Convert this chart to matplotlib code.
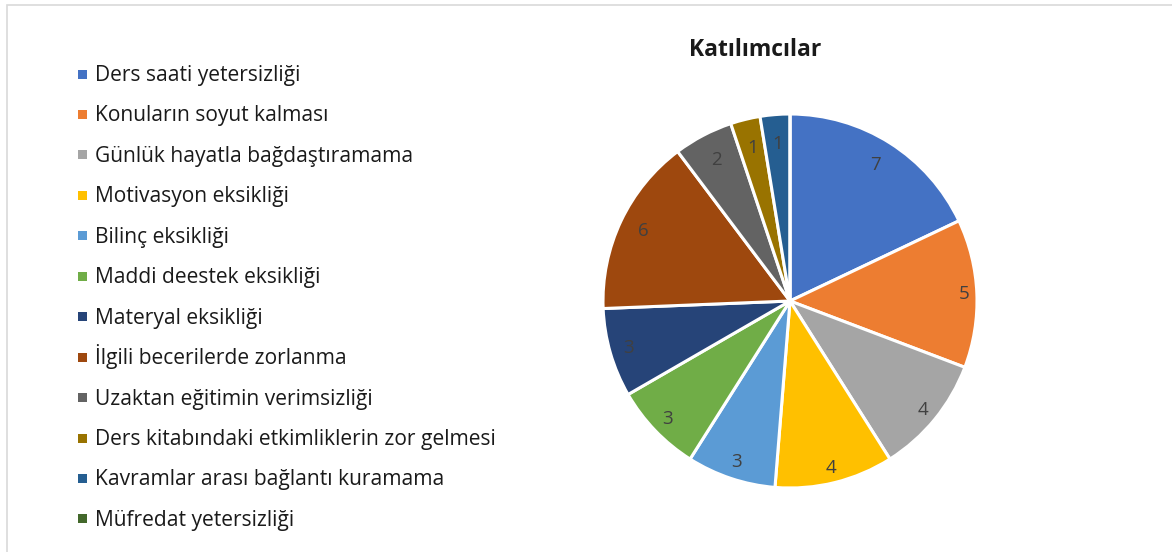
import matplotlib.pyplot as plt
from matplotlib.patches import Rectangle
import numpy as np

plt.rcParams['font.family'] = ['Open Sans', 'DejaVu Sans']

# data
categories = ["Ders saati yetersizliği", "Konuların soyut kalması", "Günlük hayatla bağdaştıramama",
              "Motivasyon eksikliği", "Bilinç eksikliği", "Maddi deestek eksikliği",
              "Materyal eksikliği", "İlgili becerilerde zorlanma", "Uzaktan eğitimin verimsizliği",
              "Ders kitabındaki etkimliklerin zor gelmesi", "Kavramlar arası bağlantı kuramama",
              "Müfredat yetersizliği"]
values = [7, 5, 4, 4, 3, 3, 3, 6, 2, 1, 1, 0]
colors = ["#4472C4", "#ED7D31", "#A5A5A5", "#FFC000", "#5B9BD5", "#70AD47",
          "#264478", "#9E480E", "#636363", "#997300", "#255E91", "#43682B"]
label_dist = [0.86, 0.93, 0.92, 0.92, 0.91, 0.91, 0.90, 0.87, 0.85, 0.84, 0.84, 0.84]

fig = plt.figure(figsize=(11.72, 5.52), dpi=100)
W, H = 1172, 552

# chart border
fig.patches.append(Rectangle((7 / W, -0.01), 1.02, 1 - 5 / H + 0.01, transform=fig.transFigure,
                             fill=False, edgecolor="#d9d9d9", linewidth=1.2))

cx, cy, r = 790, 301, 187
ax = fig.add_axes([(cx - r) / W, (H - cy - r) / H, 2 * r / W, 2 * r / H])
wedges, _ = ax.pie(values, colors=colors, startangle=90, counterclock=False, radius=1,
                   wedgeprops=dict(edgecolor="white", linewidth=2.2))
ax.set_xlim(-1, 1)
ax.set_ylim(-1, 1)
ax.set_aspect("equal")
ax.axis("off")

for w, v, d in zip(wedges, values, label_dist):
    if v == 0:
        continue
    ang = np.deg2rad((w.theta1 + w.theta2) / 2)
    ax.text(d * np.cos(ang), d * np.sin(ang), str(v), ha="center", va="center",
            fontsize=13.5, color="#404040")

fig.text(755 / W, 1 - 50 / H, "Katılımcılar", ha="center", va="center",
         fontsize=16.5, fontweight="bold", color="#1a1a1a")

# legend, one row every ~40 px
for i, (name, c) in enumerate(zip(categories, colors)):
    y = 74 + 40.45 * i
    fig.patches.append(Rectangle(((82 - 4.5) / W, 1 - (y + 4.5) / H), 9 / W, 9 / H,
                                 transform=fig.transFigure, facecolor=c, edgecolor="none"))
    fig.text(95 / W, 1 - (y + 7) / H, name, ha="left", va="baseline", fontsize=15.1, color="#1a1a1a")

fig.savefig("out.png", dpi=100)
